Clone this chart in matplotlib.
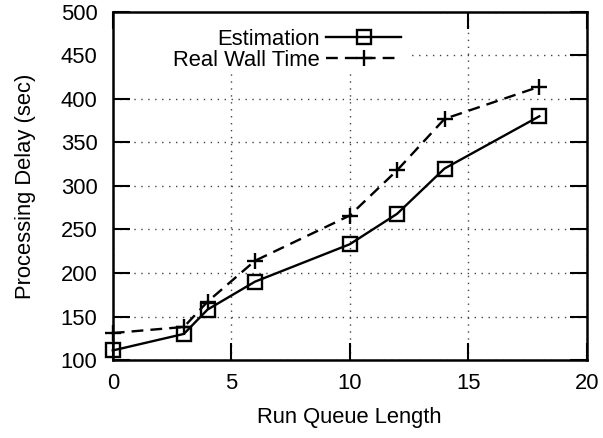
import matplotlib
matplotlib.use("Agg")
import matplotlib.pyplot as plt
from matplotlib.patches import Rectangle

plt.rcParams['font.family'] = ['Liberation Sans', 'DejaVu Sans']

# Run queue length vs. processing delay
queue_length = [0, 3, 4, 6, 10, 12, 14, 18]
estimation = [111, 130, 158, 190, 233, 268, 320, 380]
real_wall_time = [131, 138, 167, 214, 266, 318, 377, 414]

x_ticks = [0, 5, 10, 15, 20]
y_ticks = [100, 150, 200, 250, 300, 350, 400, 450, 500]

FS = 15.8

fig = plt.figure(figsize=(6.03, 4.38), dpi=100)
ax = fig.add_axes([0.187, 0.178, 0.786, 0.795])

ax.plot(queue_length, estimation, color='black', lw=1.7, marker='s',
        markersize=10, markerfacecolor='none', markeredgewidth=1.7,
        label='Estimation', zorder=3, clip_on=False)
ax.plot(queue_length, real_wall_time, color='black', lw=1.7,
        linestyle=(0, (5, 3)), marker='+', markersize=11,
        markeredgewidth=1.7, label='Real Wall Time', zorder=3,
        clip_on=False)

ax.set_xlim(0, 20)
ax.set_ylim(100, 500)
ax.set_xticks(x_ticks)
ax.set_yticks(y_ticks)
ax.tick_params(direction='in', length=12, width=1.5, top=True, right=True,
               labelsize=FS)
ax.tick_params(axis='y', pad=11)
ax.tick_params(axis='x', pad=9)
for s in ax.spines.values():
    s.set_linewidth(1.8)

ax.grid(True, color='#444444', linestyle=(0, (1, 4)), lw=1.0)
ax.set_axisbelow(True)

# blank key area hiding the grid behind the legend
ax.add_patch(Rectangle((0.0, 0.828), 0.622, 0.172, transform=ax.transAxes,
                       facecolor='white', edgecolor='none', zorder=1))

ax.set_xlabel('Run Queue Length', fontsize=FS, labelpad=10)
ax.set_ylabel('Processing Delay (sec)', fontsize=FS, labelpad=18)

leg = ax.legend(loc='upper right', bbox_to_anchor=(0.622, 0.971),
                markerfirst=False, frameon=False,
                fontsize=FS, handlelength=3.4, handletextpad=0.3,
                labelspacing=0.02, borderpad=0.3, borderaxespad=0.0)

fig.savefig('out.png', dpi=100)
